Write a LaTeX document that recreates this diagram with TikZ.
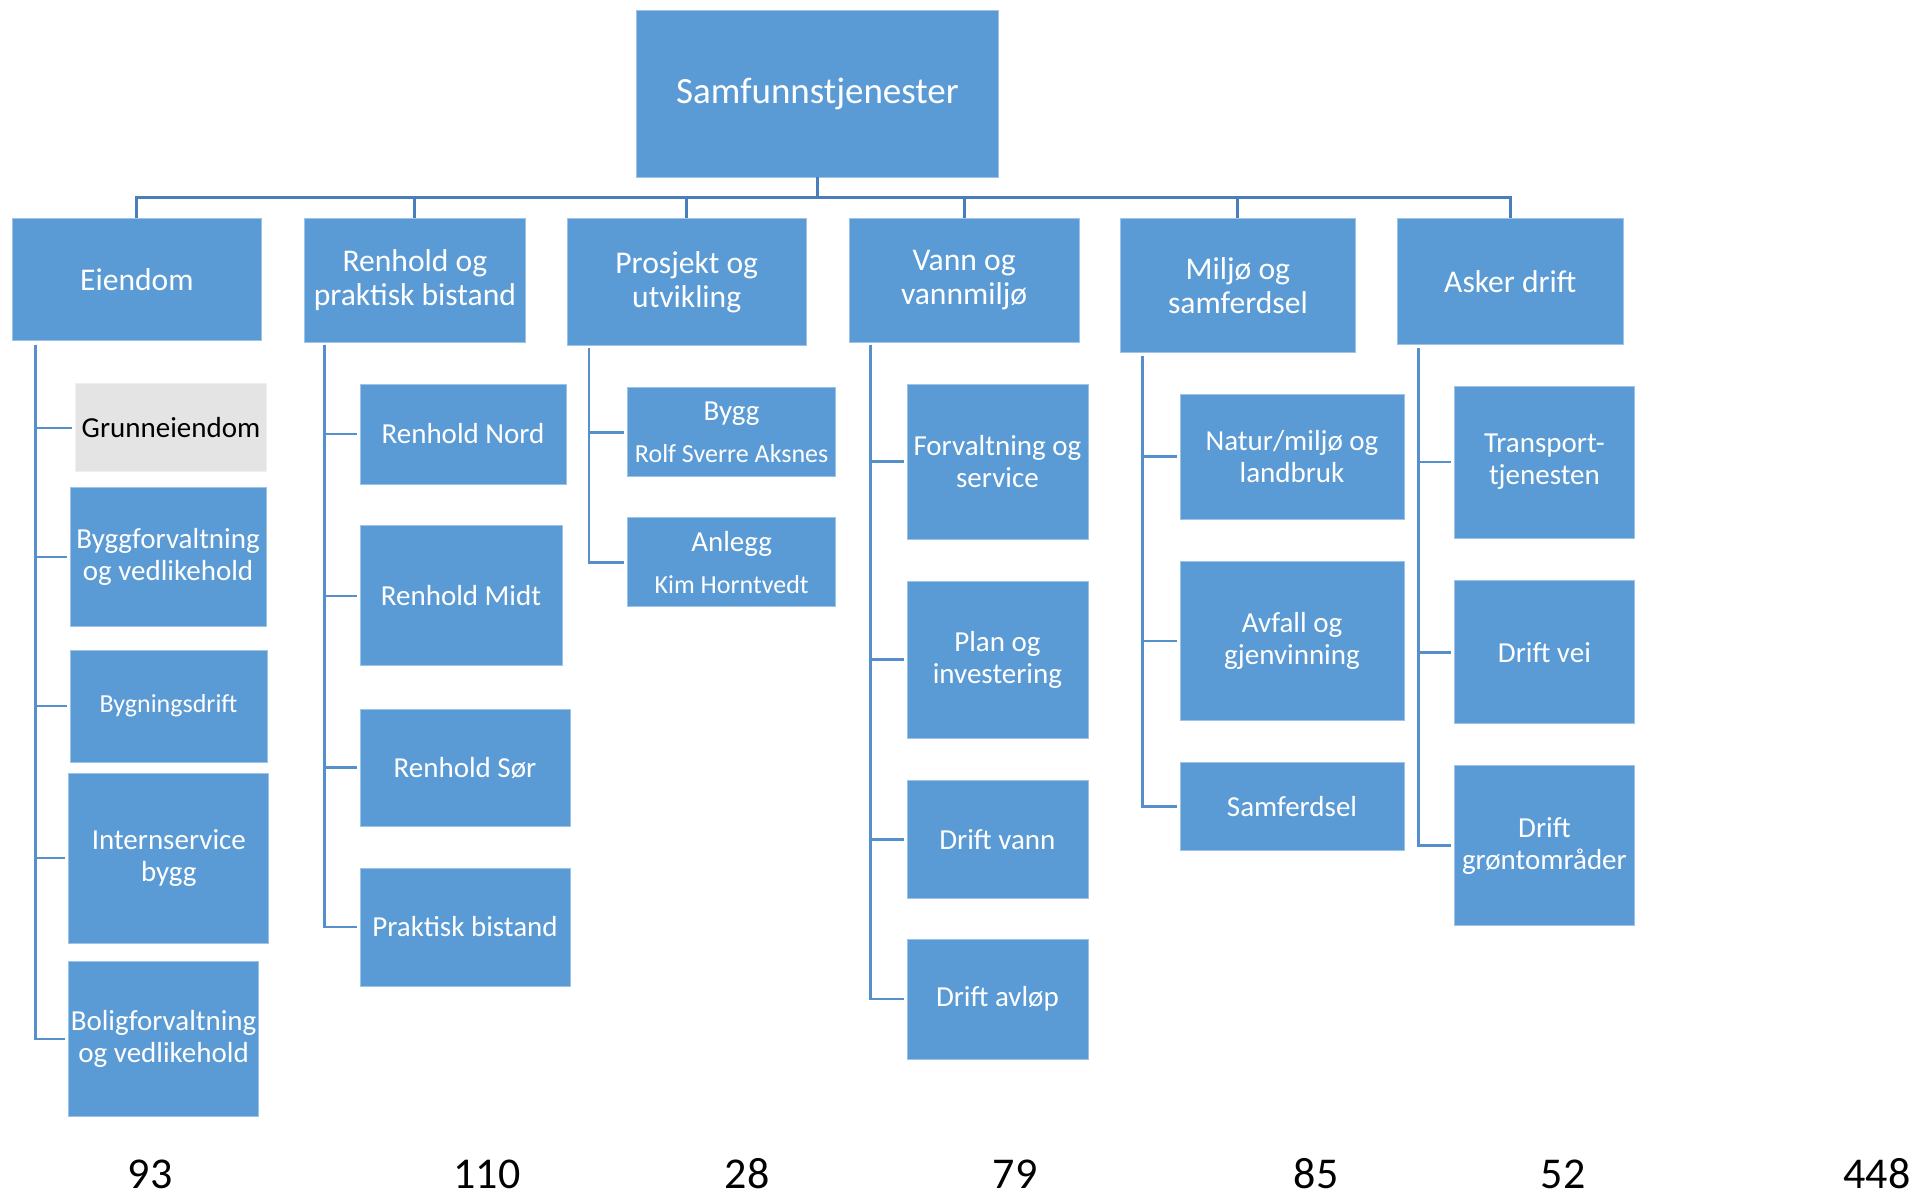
\documentclass[tikz,border=0pt]{standalone}
\usepackage{fontspec}
\setmainfont{Carlito}

\definecolor{boxblue}{HTML}{5B9BD5}
\definecolor{busblue}{HTML}{4A7EBB}
\definecolor{linkblue}{HTML}{5590CC}
\definecolor{greybox}{HTML}{E4E4E4}

\begin{document}
\begin{tikzpicture}[x=1pt,y=-1pt]
	\tikzstyle{UnitStyle}  = [rectangle, fill=boxblue, draw=boxblue!60!white, line width=0.8pt, text=white, align=center, inner sep=0pt]
	\tikzstyle{RootStyle}  = [UnitStyle, font=\fontsize{37}{40}\selectfont]
	\tikzstyle{TopStyle}   = [UnitStyle, font=\fontsize{31.6}{34}\selectfont]
	\tikzstyle{SubStyle}   = [UnitStyle, font=\fontsize{29}{32}\selectfont]
	\tikzstyle{BusStyle}   = [draw=busblue, line width=3pt]
	\tikzstyle{LinkStyle}  = [draw=linkblue, line width=2.6pt, shorten >=3pt]
	\tikzstyle{CountStyle} = [anchor=base, inner sep=0pt, font=\fontsize{44}{48}\selectfont]

	\useasboundingbox (0,0) rectangle (1916,1198);

	% top
	\node[RootStyle, minimum width=362pt, minimum height=167pt] (root) at (817.5,93.5) {Samfunnstjenester};

	% first level
	\node[TopStyle, minimum width=249pt, minimum height=122pt] (eien) at (136.9,279.8) {Eiendom};
	\node[TopStyle, minimum width=221pt, minimum height=123pt] (renh) at (414.9,280.4) {Renhold og\\praktisk bistand};
	\node[TopStyle, minimum width=239pt, minimum height=127pt] (pros) at (686.7,282.3) {Prosjekt og\\utvikling};
	\node[TopStyle, minimum width=230pt, minimum height=123pt] (vann) at (964.1,280.4) {Vann og\\vannmiljø};
	\node[TopStyle, minimum width=235pt, minimum height=134pt] (milj) at (1237.9,285.5) {Miljø og\\samferdsel};
	\node[TopStyle, minimum width=226pt, minimum height=126pt] (aske) at (1510.3,281.4) {Asker drift};

	\foreach \n in {eien,renh,pros,vann,milj,aske}
		\draw[BusStyle] (root.south) -- ++(0,20.3) -| (\n.north);

	% Eiendom
	\node[SubStyle, fill=greybox, draw=greybox!60!white, text=black, minimum width=191pt, minimum height=88pt] (grun) at (171,427.8) {Grunneiendom};
	\node[SubStyle, minimum width=196pt, minimum height=139pt] (bygf) at (168,557.1) {Byggforvaltning\\og vedlikehold};
	\node[SubStyle, font=\fontsize{26}{30}\selectfont, minimum width=197pt, minimum height=112pt] (bygn) at (168.5,705.9) {Bygningsdrift};
	\node[SubStyle, minimum width=200pt, minimum height=170pt] (inte) at (168.8,858) {Internservice\\bygg};
	\node[SubStyle, minimum width=190pt, minimum height=155pt] (bolf) at (163.6,1038.8) {Boligforvaltning\\og vedlikehold};
	\coordinate (eienspine) at (35.6,344.6);
	\foreach \c in {grun,bygf,bygn,inte,bolf}
		\draw[LinkStyle] (eienspine) |- (\c.west);

	% Renhold
	\node[SubStyle, minimum width=206pt, minimum height=100pt] (rnor) at (463,434) {Renhold Nord};
	\node[SubStyle, minimum width=202pt, minimum height=140pt] (rmid) at (461,595.8) {Renhold Midt};
	\node[SubStyle, minimum width=210pt, minimum height=117pt] (rsor) at (465,767.5) {Renhold Sør};
	\node[SubStyle, minimum width=210pt, minimum height=118pt] (prak) at (465,927) {Praktisk bistand};
	\coordinate (renhspine) at (324.5,344.6);
	\foreach \c in {rnor,rmid,rsor,prak}
		\draw[LinkStyle] (renhspine) |- (\c.west);

	% Prosjekt
	\node[SubStyle, minimum width=208pt, minimum height=89pt] (bygg) at (731.6,432.2) {Bygg\\[10pt]{\fontsize{26}{30}\selectfont Rolf Sverre Aksnes}};
	\node[SubStyle, minimum width=208pt, minimum height=89pt] (anle) at (731.6,562.3) {Anlegg\\[10pt]{\fontsize{26}{30}\selectfont Kim Horntvedt}};
	\coordinate (prosspine) at (589,348);
	\foreach \c in {bygg,anle}
		\draw[LinkStyle] (prosspine) |- (\c.west);

	% Vann
	\node[SubStyle, minimum width=181pt, minimum height=155pt] (forv) at (997.4,461.5) {Forvaltning og\\service};
	\node[SubStyle, minimum width=181pt, minimum height=157pt] (plan) at (997.4,659.5) {Plan og\\investering};
	\node[SubStyle, minimum width=181pt, minimum height=118pt] (dvan) at (997.4,839.3) {Drift vann};
	\node[SubStyle, minimum width=181pt, minimum height=120pt] (davl) at (997.4,999) {Drift avløp};
	\coordinate (vannspine) at (870.7,344.6);
	\foreach \c in {forv,plan,dvan,davl}
		\draw[LinkStyle] (vannspine) |- (\c.west);

	% Miljø
	\node[SubStyle, minimum width=224pt, minimum height=125pt] (natu) at (1292,456.7) {Natur/miljø og\\landbruk};
	\node[SubStyle, minimum width=224pt, minimum height=159pt] (avfa) at (1292,640.8) {Avfall og\\gjenvinning};
	\node[SubStyle, minimum width=224pt, minimum height=88pt] (samf) at (1292,806.3) {Samferdsel};
	\coordinate (miljspine) at (1142.7,356);
	\foreach \c in {natu,avfa,samf}
		\draw[LinkStyle] (miljspine) |- (\c.west);

	% Asker drift
	\node[SubStyle, minimum width=180pt, minimum height=152pt] (tran) at (1544.4,462) {Transport-\\tjenesten};
	\node[SubStyle, minimum width=180pt, minimum height=143pt] (dvei) at (1544.4,652.3) {Drift vei};
	\node[SubStyle, minimum width=180pt, minimum height=160pt] (dgro) at (1544.4,845.7) {Drift\\grøntområder};
	\coordinate (askespine) at (1418.5,348);
	\foreach \c in {tran,dvei,dgro}
		\draw[LinkStyle] (askespine) |- (\c.west);

	% counts
	\node[CountStyle] (neien) at (150,1188) {93};
	\node[CountStyle] (nrenh) at (487,1188) {110};
	\node[CountStyle] (npros) at (747,1188) {28};
	\node[CountStyle] (nvann) at (1015,1188) {79};
	\node[CountStyle] (nmilj) at (1316,1188) {85};
	\node[CountStyle] (naske) at (1563,1188) {52};
	\node[CountStyle] (nsum)  at (1877,1188) {448};
\end{tikzpicture}
\end{document}
